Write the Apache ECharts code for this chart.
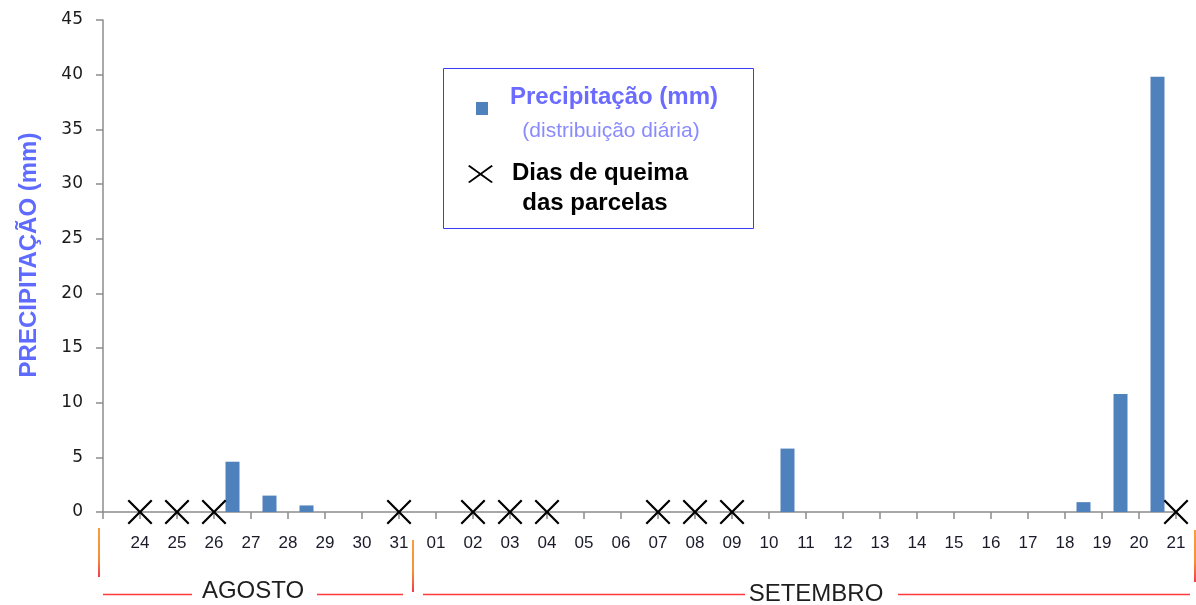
<!DOCTYPE html>
<html>
<head>
<meta charset="utf-8">
<script src="https://cdn.jsdelivr.net/npm/echarts@6/dist/echarts.min.js"></script>
<style>
  html, body { margin: 0; padding: 0; background: #fff; }
  #chart { width: 1196px; height: 605px; }
</style>
</head>
<body>
<div id="chart"></div>
<script>
// dias no eixo (marcas nas divisões) - agosto 24..31, setembro 01..21
var dayLabels = ['', '24', '25', '26', '27', '28', '29', '30', '31',
  '01', '02', '03', '04', '05', '06', '07', '08', '09', '10',
  '11', '12', '13', '14', '15', '16', '17', '18', '19', '20', '21']
// cada barra fica no intervalo que termina no dia indicado
var rainDays = dayLabels.slice(1)
var rainValues = [0, 0, 0, 4.6, 1.5, 0.6, 0, 0,
  0, 0, 0, 0, 0, 0, 0, 0, 0, 0,
  5.8, 0, 0, 0, 0, 0, 0, 0, 0.9, 10.8, 39.8]
// dias de queima das parcelas
var burnDays = ['24', '25', '26', '31', '02', '03', '04', '07', '08', '09', '21']
var yTicks = [0, 45, 5]   // min, max, intervalo

var chart = echarts.init(document.getElementById('chart'))

var xPath = 'path://M0,1.5L1.5,0L12,10.5L22.5,0L24,1.5L13.5,12L24,22.5L22.5,24L12,13.5L1.5,24L0,22.5L10.5,12Z'
var axisColor = '#8c8c8c'
var lineRed = '#ff3b3b'
var vGrad = new echarts.graphic.LinearGradient(0, 0, 0, 1, [
  { offset: 0, color: '#f7a040' }, { offset: 0.6, color: '#f59038' }, { offset: 1, color: '#f03050' }])

// X da legenda como polígono
var legX = [[0, 1.5], [1.5, 0], [12, 10.5], [22.5, 0], [24, 1.5], [13.5, 12], [24, 22.5],
  [22.5, 24], [12, 13.5], [1.5, 24], [0, 22.5], [10.5, 12]].map(function (p) {
  return [468 + p[0] * 1.04, 165 + p[1] * 0.75]
})

var option = {
  animation: false,
  backgroundColor: '#fff',
  grid: { left: 103, top: 20, right: 20, bottom: 93, containLabel: false },
  xAxis: [{
    type: 'category',
    data: rainDays,
    boundaryGap: true,
    axisLine: { lineStyle: { color: axisColor, width: 1.5 } },
    axisTick: { show: true, length: 7, lineStyle: { color: axisColor, width: 1.5 } },
    axisLabel: { show: false },
    splitLine: { show: false }
  }, {
    type: 'category',
    data: dayLabels,
    boundaryGap: false,
    position: 'bottom',
    axisLine: { show: false },
    axisTick: { show: false },
    axisLabel: {
      interval: 0, margin: 23,
      fontFamily: 'Liberation Sans, Arial', fontSize: 17, color: '#1a1a2a'
    },
    splitLine: { show: false }
  }],
  yAxis: {
    type: 'value',
    min: yTicks[0], max: yTicks[1], interval: yTicks[2],
    name: 'PRECIPITAÇÃO (mm)',
    nameLocation: 'middle',
    nameGap: 62,
    nameTextStyle: { color: '#5f6bff', fontWeight: 'bold', fontSize: 24, fontFamily: 'Liberation Sans, Arial', padding: [0, 0, 0, 22] },
    axisLine: { show: true, lineStyle: { color: axisColor, width: 1.5 } },
    axisTick: { show: true, inside: false, length: 7, lineStyle: { color: axisColor, width: 1.5 } },
    axisLabel: { margin: 20, fontFamily: 'DejaVu Sans', fontSize: 17, color: '#1a1a1a' },
    splitLine: { show: false }
  },
  series: [{
    name: 'Precipitação (mm)',
    type: 'bar',
    xAxisIndex: 0,
    data: rainValues,
    barWidth: 14,
    itemStyle: { color: '#4f81bd' }
  }, {
    name: 'Dias de queima das parcelas',
    type: 'scatter',
    xAxisIndex: 1,
    data: burnDays.map(function (d) { return [d, 0] }),
    symbol: xPath,
    symbolSize: 25,
    itemStyle: { color: '#000', opacity: 1 },
    z: 5
  }],
  graphic: [
    // caixa da legenda
    { type: 'rect', shape: { x: 443.5, y: 68.5, width: 310, height: 160 },
      style: { fill: '#fff', stroke: '#3c3cf0', lineWidth: 1 }, z: 10 },
    { type: 'rect', shape: { x: 476, y: 102, width: 12, height: 13 },
      style: { fill: '#4f81bd' }, z: 11 },
    { type: 'text', x: 614, y: 97, z: 11,
      style: { text: 'Precipitação (mm)', fill: '#6b6bff', font: 'bold 24px "Liberation Sans", Arial', align: 'center', verticalAlign: 'middle' } },
    { type: 'text', x: 611, y: 131, z: 11,
      style: { text: '(distribuição diária)', fill: '#8a8aff', font: '21px "Liberation Sans", Arial', align: 'center', verticalAlign: 'middle' } },
    { type: 'polygon', z: 11, shape: { points: legX }, style: { fill: '#000' } },
    { type: 'text', x: 600, y: 173, z: 11,
      style: { text: 'Dias de queima', fill: '#000', font: 'bold 24px "Liberation Sans", Arial', align: 'center', verticalAlign: 'middle' } },
    { type: 'text', x: 595, y: 203, z: 11,
      style: { text: 'das parcelas', fill: '#000', font: 'bold 24px "Liberation Sans", Arial', align: 'center', verticalAlign: 'middle' } },

    // chaves dos meses
    { type: 'line', shape: { x1: 99, y1: 528, x2: 99, y2: 577 }, style: { stroke: vGrad, lineWidth: 2 } },
    { type: 'line', shape: { x1: 413, y1: 540, x2: 413, y2: 592 }, style: { stroke: vGrad, lineWidth: 2 } },
    { type: 'line', shape: { x1: 1195, y1: 530, x2: 1195, y2: 582 }, style: { stroke: vGrad, lineWidth: 2 } },
    { type: 'line', shape: { x1: 103, y1: 594.5, x2: 192, y2: 594.5 }, style: { stroke: lineRed, lineWidth: 1.5 } },
    { type: 'line', shape: { x1: 317, y1: 594.5, x2: 403, y2: 594.5 }, style: { stroke: lineRed, lineWidth: 1.5 } },
    { type: 'line', shape: { x1: 423, y1: 594.5, x2: 745, y2: 594.5 }, style: { stroke: lineRed, lineWidth: 1.5 } },
    { type: 'line', shape: { x1: 898, y1: 594.5, x2: 1190, y2: 594.5 }, style: { stroke: lineRed, lineWidth: 1.5 } },
    { type: 'text', x: 253, y: 591,
      style: { text: 'AGOSTO', fill: '#1e1e1e', font: '24px "Liberation Sans", Arial', align: 'center', verticalAlign: 'middle' } },
    { type: 'text', x: 816, y: 594,
      style: { text: 'SETEMBRO', fill: '#1e1e1e', font: '24px "Liberation Sans", Arial', align: 'center', verticalAlign: 'middle' } }
  ]
}

chart.setOption(option)
</script>
</body>
</html>
